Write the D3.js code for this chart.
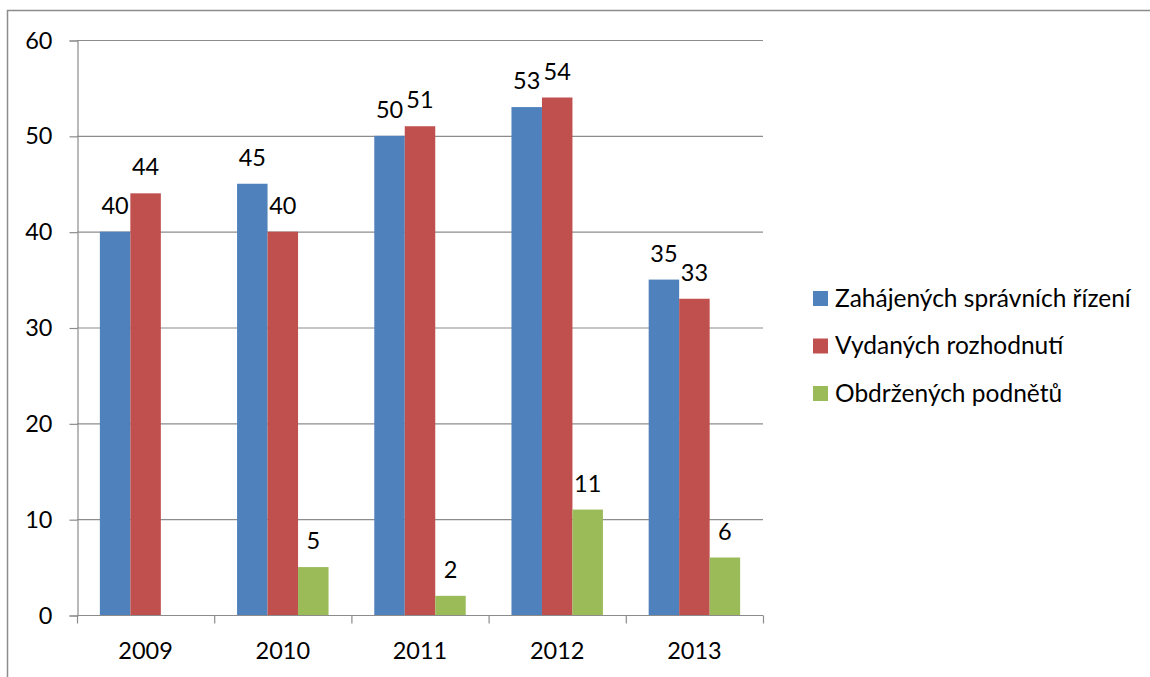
<!DOCTYPE html>
<html>
<head>
<meta charset="utf-8">
<script src="https://cdn.jsdelivr.net/npm/d3@7"></script>
<style>
	body { margin: 0; background: #fff; }
	svg text { font-family: Lato, "Open Sans", sans-serif; fill: #000; }
</style>
</head>
<body>
<svg id="chart" width="1150" height="677"></svg>
<script>
// data
var years = ['2009', '2010', '2011', '2012', '2013'];
var seriesNames = ['Zahájených správních řízení', 'Vydaných rozhodnutí', 'Obdržených podnětů'];
var zahajenych = [40, 45, 50, 53, 35];
var vydanych = [44, 40, 51, 54, 33];
var obdrzenych = [null, 5, 2, 11, 6];
var yTicks = [0, 10, 20, 30, 40, 50, 60];
var colors = ['#4F81BD', '#C0504D', '#9BBB59'];

var values = [zahajenych, vydanych, obdrzenych];

var svg = d3.select('#chart');
var fontSize = 23.5;

// outer frame (only left and top edges are visible)
svg.append('rect')
	.attr('x', 7.5).attr('y', 10.5)
	.attr('width', 1200).attr('height', 700)
	.attr('fill', 'none')
	.attr('stroke', '#8c8c8c')
	.attr('stroke-width', 1.5);

var x = d3.scaleBand().domain(years).range([77, 763]);
var bw = x.bandwidth();
var barW = bw / 4.5;
var xs = d3.scaleBand().domain(d3.range(seriesNames.length))
	.range([barW * 0.75, bw - barW * 0.75]);
var y = d3.scaleLinear().domain([0, 60]).range([615, 40]);

// gridlines
svg.append('g')
	.selectAll('line')
	.data(yTicks.filter(function(d) { return d > 0; }))
	.enter().append('line')
		.attr('x1', 77).attr('x2', 763)
		.attr('y1', function(d) { return y(d) + 0.5; })
		.attr('y2', function(d) { return y(d) + 0.5; })
		.attr('stroke', '#8c8c8c')
		.attr('stroke-width', 1.2);

// y axis
var yAxis = svg.append('g')
	.attr('transform', 'translate(77.5,0.5)')
	.call(d3.axisLeft(y).tickValues(yTicks).tickSize(8).tickPadding(17));
yAxis.selectAll('.domain, .tick line').attr('stroke', '#8c8c8c').attr('stroke-width', 1.2);
yAxis.selectAll('text').attr('font-size', fontSize).attr('font-family', null).attr('fill', '#000');

// x axis: ticks on category boundaries
var xAxis = svg.append('g').attr('transform', 'translate(0,615.5)');
xAxis.append('line')
	.attr('x1', 77).attr('x2', 763)
	.attr('stroke', '#8c8c8c').attr('stroke-width', 1.2);
xAxis.selectAll('line.tick')
	.data(years.concat(['end']))
	.enter().append('line')
		.attr('class', 'tick')
		.attr('x1', function(d) { return (d == 'end' ? 763 : x(d)) + 0.5; })
		.attr('x2', function(d) { return (d == 'end' ? 763 : x(d)) + 0.5; })
		.attr('y1', 0).attr('y2', 8)
		.attr('stroke', '#8c8c8c').attr('stroke-width', 1.2);
xAxis.selectAll('text')
	.data(years)
	.enter().append('text')
		.attr('x', function(d) { return x(d) + bw / 2; })
		.attr('y', 43)
		.attr('text-anchor', 'middle')
		.attr('font-size', fontSize)
		.text(function(d) { return d; });

// bars and value labels
var bars = [];
values.forEach(function(vals, s) {
	vals.forEach(function(v, i) {
		if (v != null) bars.push({s: s, year: years[i], v: v});
	});
});

var g = svg.append('g');
g.selectAll('rect')
	.data(bars)
	.enter().append('rect')
		.attr('x', function(d) { return x(d.year) + xs(d.s); })
		.attr('y', function(d) { return y(d.v); })
		.attr('width', xs.bandwidth())
		.attr('height', function(d) { return y(0) - y(d.v); })
		.attr('fill', function(d) { return colors[d.s]; });

g.selectAll('text')
	.data(bars)
	.enter().append('text')
		.attr('x', function(d) { return x(d.year) + xs(d.s) + xs.bandwidth() / 2; })
		.attr('y', function(d) { return y(d.v) - 18; })
		.attr('text-anchor', 'middle')
		.attr('font-size', fontSize)
		.text(function(d) { return d.v; });

// legend
var legend = svg.append('g').selectAll('g')
	.data(seriesNames)
	.enter().append('g')
		.attr('transform', function(d, i) { return 'translate(813,' + (298 + i * 47.5) + ')'; });
legend.append('rect')
	.attr('x', 0).attr('y', -7)
	.attr('width', 15).attr('height', 15)
	.attr('fill', function(d, i) { return colors[i]; });
legend.append('text')
	.attr('x', 22).attr('y', 0)
	.attr('dy', '0.35em')
	.attr('font-size', 24.5)
	.text(function(d) { return d; });
</script>
</body>
</html>
